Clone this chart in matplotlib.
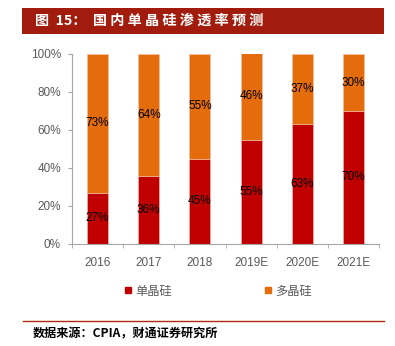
import matplotlib
matplotlib.use("Agg")
import matplotlib.pyplot as plt
from matplotlib.patches import Rectangle
from matplotlib.lines import Line2D
import numpy as np

plt.rcParams['font.family'] = ['Liberation Sans', 'Noto Sans CJK SC', 'DejaVu Sans']

categories = ["2016", "2017", "2018", "2019E", "2020E", "2021E"]
mono = [27, 36, 45, 55, 63, 70]
poly = [73, 64, 55, 46, 37, 30]
yticks = [0, 20, 40, 60, 80, 100]
series_names = ["单晶硅", "多晶硅"]
title = "图  15：  国 内 单 晶 硅 渗 透 率 预 测"
source = "数据来源：CPIA，财通证券研究所"

RED = "#C00000"
ORANGE = "#E46C0A"
AXIS = "#A6A6A6"
TICK = "#595959"
CJK = ['Noto Sans CJK SC', 'DejaVu Sans']

W, H = 395, 346
fig = plt.figure(figsize=(W / 100, H / 100), dpi=100)

def fx(px):
    return px / W

def fy(py):
    return 1 - py / H

# title banner
fig.patches.append(Rectangle((fx(22), fy(34)), fx(384) - fx(22), fy(8) - fy(34),
                             transform=fig.transFigure, facecolor="#A11C0C",
                             edgecolor="none", zorder=0))
fig.text(fx(35), fy(21), title, color="white", fontsize=10.2, fontweight="bold",
         family=CJK, va="center", ha="left")

ax = fig.add_axes([fx(72), fy(244), fx(379) - fx(72), fy(54) - fy(244)])
x = np.arange(len(categories))
bw = 0.41
ax.bar(x, mono, bw, color=RED, edgecolor="#F2C0B0", linewidth=0.4, zorder=2)
ax.bar(x, poly, bw, bottom=mono, color=ORANGE, edgecolor="#F2C0B0", linewidth=0.4, zorder=2)

for i in range(len(categories)):
    ax.text(x[i], mono[i] / 2, f"{mono[i]}%", ha="center", va="center",
            fontsize=8.5, color="black", zorder=3)
    ax.text(x[i], mono[i] + poly[i] / 2, f"{poly[i]}%", ha="center", va="center",
            fontsize=8.5, color="black", zorder=3)

ax.set_xlim(-0.5, len(categories) - 0.5)
ax.set_ylim(0, 100)
ax.set_yticks(yticks)
ax.set_yticklabels([f"{v}%" for v in yticks])
ax.set_xticks(x)
ax.set_xticklabels(categories)
ax.set_xticks(np.arange(len(categories) + 1) - 0.5, minor=True)
ax.tick_params(axis="x", which="major", length=0, pad=9, labelsize=8.5, labelcolor=TICK)
ax.tick_params(axis="x", which="minor", length=3, color=AXIS, direction="out")
ax.tick_params(axis="y", length=3, color=AXIS, pad=5, labelsize=8.5, labelcolor=TICK)
for s in ["top", "right"]:
    ax.spines[s].set_visible(False)
for s in ["left", "bottom"]:
    ax.spines[s].set_color(AXIS)
    ax.spines[s].set_linewidth(0.8)

# legend
handles = [Line2D([], [], marker="s", linestyle="none", markersize=4.5,
                  markerfacecolor=c, markeredgecolor=c) for c in (RED, ORANGE)]
leg = fig.legend(handles, series_names, loc="center", bbox_to_anchor=(fx(218), fy(291)),
                 ncol=2, frameon=False, columnspacing=7.5, handlelength=0.6,
                 handletextpad=0.3, prop={"family": CJK, "size": 8.8})
for t in leg.get_texts():
    t.set_color(TICK)

# footer
fig.add_artist(Line2D([fx(23), fx(384)], [fy(321), fy(321)], transform=fig.transFigure,
                      color="#B22A14", linewidth=1.0))
fig.text(fx(33), fy(334), source, fontsize=8.7, fontweight="bold", family=CJK,
         va="center", ha="left", color="black")

fig.savefig("out.png", dpi=100)
